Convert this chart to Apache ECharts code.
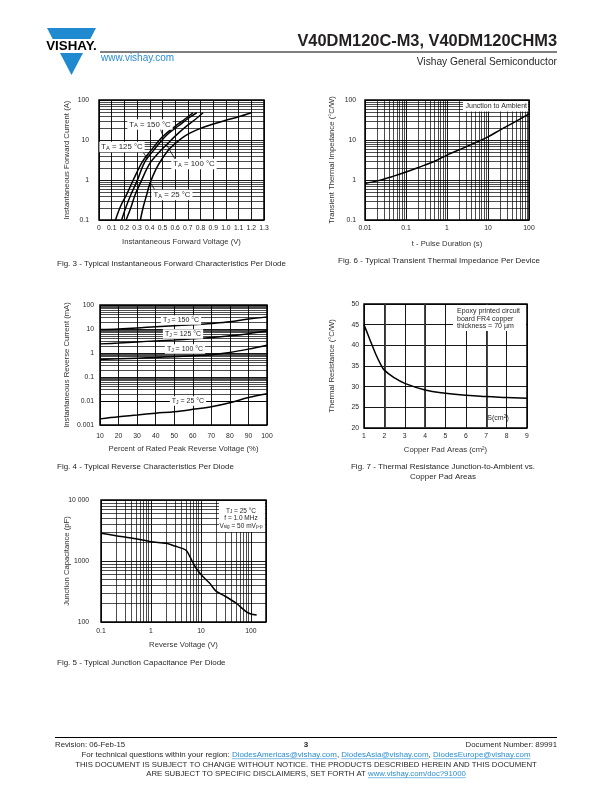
<!DOCTYPE html>
<html><head><meta charset="utf-8">
<script src="https://cdn.jsdelivr.net/npm/echarts@6/dist/echarts.min.js"></script>
<style>html,body{margin:0;padding:0;background:#fff}#c{width:612px;height:792px}</style>
</head><body><div id="c"></div>
<script>
// ---------- DATA ----------
// Fig. 3 forward characteristics (V, A)
const f3V150=[0.13,0.17,0.22,0.27,0.34,0.40,0.50,0.60,0.68,0.74];
const f3I150=[0.1,0.22,0.45,1.0,2.8,5.0,12,22,34,48];
const f3V125=[0.178,0.21,0.25,0.30,0.36,0.43,0.53,0.63,0.71,0.77];
const f3I125=[0.1,0.2,0.42,0.95,2.8,5.5,13,23,36,48];
const f3V100=[0.213,0.25,0.284,0.33,0.40,0.47,0.53,0.60,0.68,0.76,0.82];
const f3I100=[0.1,0.2,0.42,0.9,2.6,4.8,7.5,12.5,21,33,48];
const f3V25=[0.326,0.35,0.375,0.40,0.45,0.50,0.56,0.65,0.72,0.80,0.90,1.0,1.1,1.2];
const f3I25=[0.1,0.22,0.42,0.8,1.9,3.5,6.2,11,15,19.5,25,31,38,48];
const f3XTickVals=[0,0.1,0.2,0.3,0.4,0.5,0.6,0.7,0.8,0.9,1.0,1.1,1.2,1.3];
const f3XTickLabels=['0','0.1','0.2','0.3','0.4','0.5','0.6','0.7','0.8','0.9','1.0','1.1','1.2','1.3'];
const f3YTickVals=[0.1,1,10,100];
const f3YTickLabels=['0.1','1','10','100'];
const f3ArrowFrom=[[0.48,20],[0.336,5.6],[0.612,2.87],[0.455,0.47]];
const f3ArrowTo=[[0.505,12.5],[0.385,3.3],[0.533,7.5],[0.405,0.85]];

// Fig. 4 reverse characteristics (% VRRM, mA)
const f4Pct=[10,20,30,40,50,60,70,80,90,100];
const f4I150=[9.5,10,11,12.5,13.8,15,17,20,26,32];
const f4I125=[2.4,2.6,2.9,3.2,3.5,3.9,4.4,5.2,6.4,8.2];
const f4I100=[0.54,0.57,0.61,0.65,0.70,0.76,0.84,1.05,1.45,2.1];
const f4I25=[0.0018,0.0022,0.0026,0.0031,0.0036,0.0045,0.0058,0.0085,0.014,0.02];
const f4YTickVals=[0.001,0.01,0.1,1,10,100];
const f4YTickLabels=['0.001','0.01','0.1','1','10','100'];

// Fig. 5 junction capacitance (V, pF)
const f5V=[0.1,0.2,0.5,1,2,3,5,6,7,8,10,15,20,30,50,80,100,130];
const f5C=[2850,2600,2320,2070,1950,1760,1510,1180,920,760,600,430,320,267,205,148,135,130];
const f5XTickVals=[0.1,1,10,100];
const f5XTickLabels=['0.1','1','10','100'];
const f5YTickVals=[100,1000,10000];
const f5YTickLabels=['100','1000','10 000'];

// Fig. 6 transient thermal impedance (s, °C/W)
const f6T=[0.01,0.02,0.05,0.1,0.2,0.5,1,2,5,10,20,50,100];
const f6Z=[0.82,0.95,1.25,1.58,2.05,2.95,4.2,5.7,8.6,12,18,30,45];
const f6XTickVals=[0.01,0.1,1,10,100];
const f6XTickLabels=['0.01','0.1','1','10','100'];
const f6YTickVals=[0.1,1,10,100];
const f6YTickLabels=['0.1','1','10','100'];

// Fig. 7 thermal resistance vs copper pad area (cm², °C/W)
const f7S=[1,1.2,1.4,1.6,1.8,2,2.5,3,4,5,6,7,8,9];
const f7R=[45,42.5,40,37.6,35.6,34,32.1,30.8,29.2,28.4,27.9,27.6,27.4,27.2];

// ---------- HELPERS ----------
const FF='"Liberation Sans", Arial, Helvetica, sans-serif';
const TXT='#231f20';
const LINK='#2a8dd0';
const TICK=6.8, NAME=7.7, CAP=8;
const zip=(a,b)=>a.map((x,i)=>[x,b[i]]);
function tickFmt(vals,labels){
  return function(v){
    for(let i=0;i<vals.length;i++){
      const t=vals[i];
      if(t===0?Math.abs(v)<1e-9:Math.abs(v/t-1)<1e-6) return labels[i];
    }
    return '';
  };
}
function minors(lo,hi){
  const out=[];
  for(let e=Math.floor(Math.log10(lo));Math.pow(10,e)<hi;e++){
    for(let k=2;k<=9;k++){
      const v=+(k*Math.pow(10,e)).toPrecision(6);
      if(v>lo*1.0001&&v<hi*0.9999) out.push(v);
    }
  }
  return out;
}
const minorStyle={color:'#000',width:0.7,type:'solid'};
const majorSplit={show:true,lineStyle:{color:'#000',width:0.9}};
function gridSeries(xi,yi,lines,style){
  return {type:'line',xAxisIndex:xi,yAxisIndex:yi,data:[],silent:true,
    markLine:{silent:true,z:1,symbol:['none','none'],animation:false,
      label:{show:false},lineStyle:style||minorStyle,emphasis:{disabled:true},data:lines}};
}
function curve(xi,yi,data,smooth){
  return {type:'line',xAxisIndex:xi,yAxisIndex:yi,data:data,showSymbol:false,symbol:'none',
    smooth:smooth===undefined?0.35:smooth,z:3,silent:true,animation:false,
    lineStyle:{color:'#000',width:1.5}};
}
function lab(margin,fmt){
  const o={fontSize:TICK,fontFamily:FF,color:TXT,margin:margin};
  if(fmt) o.formatter=fmt;
  return o;
}
function axis(o){
  return Object.assign({
    axisLine:{show:false},axisTick:{show:false},splitLine:majorSplit,
    nameLocation:'middle',nameMoveOverlap:false,
    nameTextStyle:{fontSize:NAME,fontFamily:FF,color:'#333'}
  },o);
}
const gridCommon={show:true,borderColor:'#000',borderWidth:1.5,backgroundColor:'transparent',containLabel:false};

// ---------- OPTION ----------
const grids=[
  Object.assign({left:99,top:100,width:165,height:120},gridCommon),   // fig3
  Object.assign({left:100,top:305,width:167,height:120},gridCommon),  // fig4
  Object.assign({left:101,top:500,width:165,height:122},gridCommon),  // fig5
  Object.assign({left:365,top:100,width:164,height:120},gridCommon),  // fig6
  Object.assign({left:364,top:304,width:163,height:124},gridCommon)   // fig7
];
const xAxes=[
  axis({gridIndex:0,type:'value',min:0,max:1.3,interval:0.1,name:'Instantaneous Forward Voltage (V)',nameGap:18,
    axisLabel:lab(5,tickFmt(f3XTickVals,f3XTickLabels))}),
  axis({gridIndex:1,type:'value',min:10,max:100,interval:10,name:'Percent of Rated Peak Reverse Voltage (%)',nameGap:20,
    axisLabel:lab(7.5)}),
  axis({gridIndex:2,type:'log',logBase:10,min:0.1,max:200,name:'Reverse Voltage (V)',nameGap:19,
    axisLabel:lab(6,tickFmt(f5XTickVals,f5XTickLabels))}),
  axis({gridIndex:3,type:'log',logBase:10,min:0.01,max:100,name:'t - Pulse Duration (s)',nameGap:20,
    axisLabel:lab(5,tickFmt(f6XTickVals,f6XTickLabels))}),
  axis({gridIndex:4,type:'value',min:1,max:9,interval:1,name:'Copper Pad Areas (cm²)',nameGap:18,
    axisLabel:lab(5)})
];
const yAxes=[
  axis({gridIndex:0,type:'log',logBase:10,min:0.1,max:100,name:'Instantaneous Forward Current (A)',nameGap:28,
    axisLabel:lab(10,tickFmt(f3YTickVals,f3YTickLabels))}),
  axis({gridIndex:1,type:'log',logBase:10,min:0.001,max:100,name:'Instantaneous Reverse Current (mA)',nameGap:29,
    axisLabel:lab(6,tickFmt(f4YTickVals,f4YTickLabels))}),
  axis({gridIndex:2,type:'log',logBase:10,min:100,max:10000,name:'Junction Capacitance (pF)',nameGap:30,
    axisLabel:lab(12,tickFmt(f5YTickVals,f5YTickLabels))}),
  axis({gridIndex:3,type:'log',logBase:10,min:0.1,max:100,name:'Transient Thermal Impedance (°C/W)',nameGap:29,
    axisLabel:lab(9,tickFmt(f6YTickVals,f6YTickLabels))}),
  axis({gridIndex:4,type:'value',min:20,max:50,interval:5,name:'Thermal Resistance (°C/W)',nameGap:28,
    axisLabel:lab(5)})
];

const series=[
  // Fig 3
  gridSeries(0,0,minors(0.1,100).map(v=>({yAxis:v}))),
  curve(0,0,zip(f3V150,f3I150)),
  curve(0,0,zip(f3V125,f3I125)),
  curve(0,0,zip(f3V100,f3I100)),
  curve(0,0,zip(f3V25,f3I25)),
  {type:'line',xAxisIndex:0,yAxisIndex:0,data:[],silent:true,
    markLine:{silent:true,z:6,symbol:['none','arrow'],symbolSize:[0,5],animation:false,label:{show:false},
      lineStyle:{color:'#000',width:0.8,type:'solid'},
      data:f3ArrowFrom.map((a,i)=>[{coord:a},{coord:f3ArrowTo[i]}])}},
  // Fig 4
  gridSeries(1,1,minors(0.001,100).map(v=>({yAxis:v}))),
  curve(1,1,zip(f4Pct,f4I150)),
  curve(1,1,zip(f4Pct,f4I125)),
  curve(1,1,zip(f4Pct,f4I100)),
  curve(1,1,zip(f4Pct,f4I25)),
  // Fig 5
  gridSeries(2,2,minors(100,10000).map(v=>({yAxis:v})).concat(minors(0.1,200).map(v=>({xAxis:v})))),
  curve(2,2,zip(f5V,f5C),0.25),
  // Fig 6
  gridSeries(3,3,minors(0.1,100).map(v=>({yAxis:v})).concat(minors(0.01,100).map(v=>({xAxis:v})))),
  curve(3,3,zip(f6T,f6Z)),
  // Fig 7
  gridSeries(4,4,[2,4,7].map(v=>({xAxis:v})),{color:'#333',width:1.8,type:'solid'}),
  curve(4,4,zip(f7S,f7R),0.4)
];

// ---------- TEXT / DECOR ----------
const g=[];
function T(x,y,text,size,opts){
  opts=opts||{};
  g.push({type:'text',x:x,y:y,z:102,silent:true,
    style:Object.assign({text:text,font:(opts.weight||'normal')+' '+size+'px '+FF,fill:opts.color||TXT,
      textAlign:opts.align||'left',textVerticalAlign:'middle'},opts.style||{})});
}
function L(x1,y1,x2,y2,w,c){
  g.push({type:'line',z:100,silent:true,shape:{x1:x1,y1:y1,x2:x2,y2:y2},style:{stroke:c||'#000',lineWidth:w||1}});
}
function R(x,y,w,h){
  g.push({type:'rect',z:100,silent:true,shape:{x:x,y:y,width:w,height:h},style:{fill:'#fff'}});
}
// logo
const BLUE='#1f8ad0';
g.push({type:'polygon',z:100,silent:true,shape:{points:[[47,28],[96,28],[90.3,39],[52.7,39]]},style:{fill:BLUE}});
g.push({type:'polygon',z:100,silent:true,shape:{points:[[60,53],[83,53],[71.5,75]]},style:{fill:BLUE}});
T(71.5,46,'VISHAY.',13.3,{weight:'bold',align:'center',color:'#000'});
T(557,41,'V40DM120C-M3, V40DM120CHM3',16.4,{weight:'bold',align:'right'});
L(100,52,557,52,1);
T(101,58.5,'www.vishay.com',10,{color:LINK});
T(557,62.5,'Vishay General Semiconductor',10.2,{align:'right'});

// rich label helper
function richLabel(x,y,text,size,extra){
  g.push({type:'text',x:x,y:y,z:101,silent:true,
    style:Object.assign({text:text,textAlign:'center',textVerticalAlign:'middle',
      backgroundColor:'#fff',padding:[1,2],
      rich:{n:{fontSize:size,fontFamily:FF,fill:TXT,color:TXT},
            s:{fontSize:size*0.72,fontFamily:FF,fill:TXT,color:TXT,verticalAlign:'bottom',padding:[size*0.35,0,0,0]},
            u:{fontSize:size*0.72,fontFamily:FF,fill:TXT,color:TXT,verticalAlign:'top'}}},extra||{})});
}
// Fig 3 labels
richLabel(150,124.5,'{n|T}{s|A}{n| = 150 °C}',7.8);
richLabel(122,147,'{n|T}{s|A}{n| = 125 °C}',7.8);
richLabel(194,164,'{n|T}{s|A}{n| = 100 °C}',7.8);
richLabel(172,195,'{n|T}{s|A}{n| = 25 °C}',7.8);
// Fig 4 labels
richLabel(181,320,'{n|T}{s|J}{n| = 150 °C}',7);
richLabel(183,334,'{n|T}{s|J}{n| = 125 °C}',7);
richLabel(185,349,'{n|T}{s|J}{n| = 100 °C}',7);
richLabel(188,401,'{n|T}{s|J}{n| = 25 °C}',7);
// Fig 5 box
R(219,501,46,31);
richLabel(241,511,'{n|T}{s|J}{n| = 25 °C}',6.5,{backgroundColor:'transparent'});
richLabel(241,518.5,'{n|f = 1.0 MHz}',6.5,{backgroundColor:'transparent'});
richLabel(241,526,'{n|V}{s|sig}{n| = 50 mV}{s|p-p}',6.5,{backgroundColor:'transparent'});
// Fig 6 label
R(463,101,65,10.5);
T(527,106.5,'Junction to Ambient',7,{align:'right'});
// Fig 7 texts
R(453,305,73,26);
T(457,311.5,'Epoxy printed circuit',7);
T(457,319,'board FR4 copper',7);
T(457,326.5,'thickness = 70 µm',7);
richLabel(498,418,'{n|S(cm}{u|2}{n|)}',7,{backgroundColor:'transparent'});

// captions
T(57,264,'Fig. 3 - Typical Instantaneous Forward Characteristics Per Diode',CAP);
T(439,261,'Fig. 6 - Typical Transient Thermal Impedance Per Device',CAP,{align:'center'});
T(57,467,'Fig. 4 - Typical Reverse Characteristics Per Diode',CAP);
T(443,467,'Fig. 7 - Thermal Resistance Junction-to-Ambient vs.',CAP,{align:'center'});
T(443,477,'Copper Pad Areas',CAP,{align:'center'});
T(57,663,'Fig. 5 - Typical Junction Capacitance Per Diode',CAP);

// footer
L(55,737.5,557,737.5,1);
T(55,744.5,'Revision: 06-Feb-15',7.8);
T(306,745,'3',8,{weight:'bold',align:'center'});
T(557,744.5,'Document Number: 89991',7.8,{align:'right'});
const cv=document.createElement('canvas').getContext('2d');
function centeredLine(y,segs,size){
  cv.font=size+'px '+FF;
  const W=segs.reduce((s,t)=>s+cv.measureText(t[0]).width,0);
  let x=306-W/2;
  segs.forEach(t=>{
    const w=cv.measureText(t[0]).width;
    T(x,y,t[0],size,{color:t[1]?LINK:TXT});
    if(t[1]) L(x,y+4.2,x+w,y+4.2,0.6,LINK);
    x+=w;
  });
}
centeredLine(754.5,[['For technical questions within your region: ',0],['DiodesAmericas@vishay.com',1],[', ',0],['DiodesAsia@vishay.com',1],[', ',0],['DiodesEurope@vishay.com',1]],7.95);
centeredLine(765,[['THIS DOCUMENT IS SUBJECT TO CHANGE WITHOUT NOTICE. THE PRODUCTS DESCRIBED HEREIN AND THIS DOCUMENT',0]],7.8);
centeredLine(773.5,[['ARE SUBJECT TO SPECIFIC DISCLAIMERS, SET FORTH AT ',0],['www.vishay.com/doc?91000',1]],7.8);

const chart=echarts.init(document.getElementById('c'),null,{renderer:'canvas',width:612,height:792});
chart.setOption({animation:false,backgroundColor:'#fff',grid:grids,xAxis:xAxes,yAxis:yAxes,series:series,graphic:{elements:g}});
</script>
</body></html>
